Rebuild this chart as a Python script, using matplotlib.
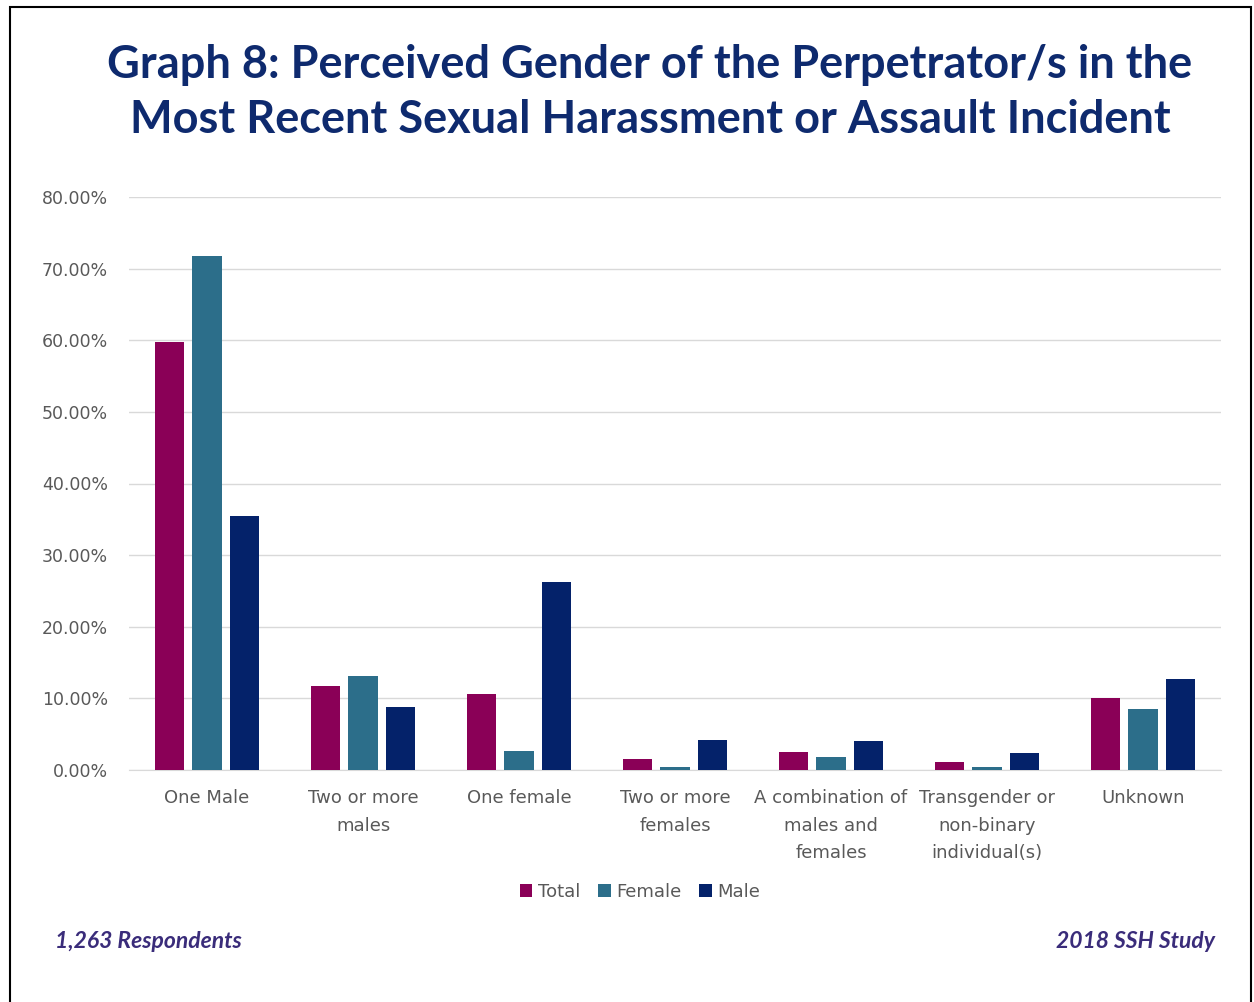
import matplotlib
matplotlib.use("Agg")
import matplotlib.pyplot as plt
import numpy as np
from matplotlib.patches import Rectangle
from matplotlib.ticker import FuncFormatter

categories = ["One Male", "Two or more\nmales", "One female", "Two or more\nfemales",
              "A combination of\nmales and\nfemales", "Transgender or\nnon-binary\nindividual(s)",
              "Unknown"]
series_names = ["Total", "Female", "Male"]
total = [59.7, 11.7, 10.6, 1.6, 2.5, 1.1, 10.0]
female = [71.8, 13.1, 2.7, 0.4, 1.8, 0.4, 8.5]
male = [35.5, 8.8, 26.2, 4.2, 4.0, 2.4, 12.7]
yticks = [0, 10, 20, 30, 40, 50, 60, 70, 80]

colors = ["#8A0057", "#2C6E8A", "#04226A"]
title_color = "#0E2A6E"

fig = plt.figure(figsize=(12.54, 10.02), dpi=100)
W, H = 1254, 1002
ax = fig.add_axes([129 / W, 1 - 770 / H, (1221 - 129) / W, (770 - 197) / H])

x = np.arange(len(categories))
bw = 0.19
offs = 0.24
for i, (vals, name, c) in enumerate(zip([total, female, male], series_names, colors)):
    ax.bar(x + (i - 1) * offs, vals, width=bw, color=c, label=name, zorder=3)

ax.set_xlim(-0.5, len(categories) - 0.5)
ax.set_ylim(0, 80)
ax.set_yticks(yticks)
ax.yaxis.set_major_formatter(FuncFormatter(lambda v, p: f"{v:.2f}%"))
ax.grid(axis="y", color="#D9D9D9", linewidth=1, zorder=0)
for s in ["top", "right", "left"]:
    ax.spines[s].set_visible(False)
ax.spines["bottom"].set_color("#D9D9D9")
ax.tick_params(axis="both", length=0, colors="#595959", labelsize=12.5)
ax.tick_params(axis="y", pad=15)
ax.tick_params(axis="x", pad=14)
ax.set_xticks(x)
ax.set_xticklabels(categories, fontsize=13, color="#595959", linespacing=1.65)
for lbl in ax.get_yticklabels():
    lbl.set_fontsize(12.5)

leg = fig.legend(loc="center", bbox_to_anchor=(640 / W, 1 - 892 / H), ncol=3, frameon=False,
                 fontsize=13, handlelength=0.7, handleheight=0.7, handletextpad=0.3,
                 columnspacing=1.0)
for t in leg.get_texts():
    t.set_color("#595959")

fig.text(650 / W, 1 - 65 / H, "Graph 8: Perceived Gender of the Perpetrator/s in the",
         ha="center", va="center", fontsize=32.5, fontweight="bold", color=title_color,
         family="Lato")
fig.text(650 / W, 1 - 120 / H, "Most Recent Sexual Harassment or Assault Incident",
         ha="center", va="center", fontsize=32.5, fontweight="bold", color=title_color,
         family="Lato")

fig.text(55 / W, 1 - 941 / H, "1,263 Respondents", ha="left", va="center", fontsize=16.5,
         fontweight="bold", style="italic", color="#3A2C7A", family="Lato")
fig.text(1215 / W, 1 - 941 / H, "2018 SSH Study", ha="right", va="center", fontsize=16.5,
         fontweight="bold", style="italic", color="#3A2C7A", family="Lato")

fig.patches.append(Rectangle((10 / W, -0.05), (1251 - 10) / W, 1.05 - 7 / H,
                             transform=fig.transFigure, fill=False,
                             edgecolor="black", linewidth=1.5))

fig.savefig("out.png", dpi=100)
